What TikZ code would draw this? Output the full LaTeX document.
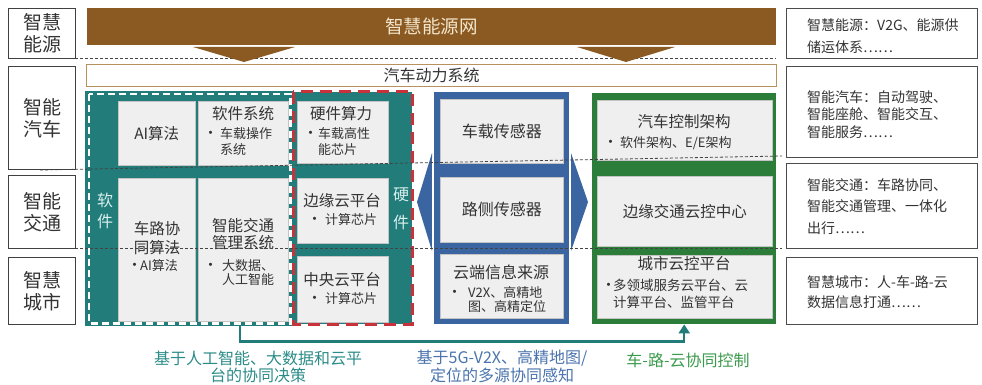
\documentclass[tikz,border=0pt]{standalone}
\usepackage{fontspec}
\setmainfont{Noto Sans CJK SC}
\usetikzlibrary{arrows.meta}
\definecolor{txt}{HTML}{333333}
\definecolor{brownc}{HTML}{8B5A22}
\definecolor{brownl}{HTML}{B8925E}
\definecolor{bandtxt}{HTML}{F3E6CC}
\definecolor{tealc}{HTML}{217C7A}
\definecolor{tealt}{HTML}{2B8C88}
\definecolor{bluec}{HTML}{3A65A0}
\definecolor{bluet}{HTML}{4A74AE}
\definecolor{greenc}{HTML}{2D7D3A}
\definecolor{greent}{HTML}{3B9B4C}
\definecolor{redc}{HTML}{C8323A}
\definecolor{cellc}{HTML}{EFEFEF}
\definecolor{celld}{HTML}{C4C4C4}
\definecolor{lightt}{HTML}{D8F0EE}
\definecolor{sepc}{HTML}{444444}
\newcommand\bul[1]{\makebox[#1][l]{\fontsize{15}{15}\selectfont •}}
\newcommand\hng[1]{\makebox[#1]{}}
\begin{document}
\begin{tikzpicture}[x=1pt,y=-1pt,
  every node/.style={inner sep=0pt, text=txt},
  lab/.style={draw=black!75, line width=1.1pt, fill=white, anchor=north west,
    align=center, font=\fontsize{19}{22}\selectfont},
  rbox/.style={draw=black!70, line width=1pt, fill=white, anchor=north west},
  cell/.style={fill=cellc, draw=celld, line width=0.5pt, anchor=north west},
  blk/.style={anchor=north west, fill=#1},
  fA/.style={font=\fontsize{15.5}{#1}\selectfont},
  fA/.default=19,
  fB/.style={font=\fontsize{13}{#1}\selectfont, align=left, anchor=west},
  fB/.default=16,
  fR/.style={font=\fontsize{14}{#1}\selectfont, align=left, anchor=west},
  fD/.style={font=\fontsize{16}{#1}\selectfont, align=center},
  sep/.style={draw=sepc, line width=0.8pt, dash pattern=on 3pt off 2pt},
]
\useasboundingbox (0,0) rectangle (982,385);
\fill[white] (0,0) rectangle (982,385);

% left labels
\node[lab, minimum width=67pt, minimum height=50pt] (l1) at (8,8) {智慧\\能源};
\node[lab, minimum width=67pt, minimum height=103pt] (l2) at (8,66) {智能\\汽车};
\node[lab, minimum width=67pt, minimum height=73pt] (l3) at (8,175) {智能\\交通};
\node[lab, minimum width=67pt, minimum height=67pt] (l4) at (8,257) {智慧\\城市};

% top band
\node[blk=brownc, minimum width=689pt, minimum height=37pt, text=bandtxt,
  font=\fontsize{18.5}{20}\selectfont] (band) at (87,8) {智慧能源网};
\node[draw=brownl, line width=1pt, fill=white, anchor=north west, minimum width=690pt,
  minimum height=22pt, font=\fontsize{16}{18}\selectfont] (pow) at (86,64) {汽车动力系统};

% software block
\node[blk=tealc, minimum width=208pt, minimum height=235pt] (sw) at (85,91) {};
\draw[white, line width=2.2pt, dash pattern=on 7pt off 4pt]
  ([shift={(4,3)}]sw.north west) rectangle ([shift={(-3,-3)}]sw.south east);
\node[cell, minimum width=77pt, minimum height=64pt, fA] (sw11) at (118,101) {AI算法};
\node[cell, minimum width=90pt, minimum height=64pt] (sw12) at (198,101) {};
\node[cell, minimum width=77pt, minimum height=143pt] (sw21) at (118,178) {};
\node[cell, minimum width=90pt, minimum height=143pt] (sw22) at (198,178) {};
\node[font=\fontsize{16}{21}\selectfont, align=center, text=lightt] (swv) at (105,210.5) {软\\件};
\node[fA] (sw12t) at (243,114) {软件系统};
\node[fB=16] (sw12b) at (203,142) {\bul{17pt}车载操作\\\hng{17pt}系统};
\node[fA=19, align=center] (sw21t) at (157,238) {车路协\\同算法};
\node[fB] (sw21b) at (127,266) {\bul{13pt}AI算法};
\node[fA=17, align=center] (sw22t) at (243,234.5) {智能交通\\管理系统};
\node[fB=14] (sw22b) at (203,273) {\bul{19pt}大数据、\\\hng{19pt}人工智能};

% hardware block
\node[blk=tealc, minimum width=119pt, minimum height=232pt] (hw) at (293,92) {};
\node[cell, minimum width=91pt, minimum height=62pt] (hw1) at (297,101) {};
\node[cell, minimum width=91pt, minimum height=65pt] (hw2) at (297,178) {};
\node[cell, minimum width=91pt, minimum height=66pt] (hw3) at (297,256) {};
\draw[redc, line width=3pt, dash pattern=on 12pt off 7pt]
  (hw.north west) rectangle (hw.south east);
\node[font=\fontsize{16}{28}\selectfont, align=center, text=lightt] (hwv) at (401,209) {硬\\件};
\node[fA] (hw1t) at (341,114) {硬件算力};
\node[fB=16] (hw1b) at (303,142) {\bul{15pt}车载高性\\\hng{15pt}能芯片};
\node[fA] (hw2t) at (342,201) {边缘云平台};
\node[fB] (hw2b) at (307,220) {\bul{18pt}计算芯片};
\node[fA] (hw3t) at (342,280) {中央云平台};
\node[fB] (hw3b) at (307,299) {\bul{18pt}计算芯片};

% blue block with double arrow
\fill[bluec] (417,202) -- (432,153) -- (432,251) -- cycle;
\fill[bluec] (588,202) -- (571,153) -- (571,251) -- cycle;
\node[blk=bluec, minimum width=135pt, minimum height=232pt] (bl) at (434,92) {};
\draw[white, line width=1.3pt] (433,158) -- (433,247);
\draw[white, line width=1.3pt] (569.5,158) -- (569.5,247);
\node[cell, minimum width=123pt, minimum height=64pt, font=\fontsize{16}{18}\selectfont] (bl1) at (440,99) {车载传感器};
\node[cell, minimum width=123pt, minimum height=65pt, font=\fontsize{16}{18}\selectfont] (bl2) at (440,177) {路侧传感器};
\node[cell, minimum width=123pt, minimum height=64pt] (bl3) at (440,254) {};
\node[font=\fontsize{16}{18}\selectfont] (bl3t) at (501,272) {云端信息来源};
\node[fB=14] (bl3b) at (447,299.5) {\bul{21pt}V2X、高精地\\\hng{21pt}图、高精定位};

% green block
\node[blk=greenc, minimum width=184pt, minimum height=231pt] (gr) at (592,93) {};
\node[cell, minimum width=175pt, minimum height=60pt] (gr1) at (597,100) {};
\node[cell, minimum width=175pt, minimum height=70pt, fA] (gr2) at (597,176) {边缘交通云控中心};
\node[cell, minimum width=175pt, minimum height=63pt] (gr3) at (597,255) {};
\node[fA] (gr1t) at (684,122) {汽车控制架构};
\node[fB] (gr1b) at (603,143) {\bul{17pt}软件架构、E/E架构};
\node[fA] (gr3t) at (684,264) {城市云控平台};
\node[font=\fontsize{13.5}{17}\selectfont, align=left, anchor=west] (gr3b) at (601,294)
  {\bul{12pt}多领域服务云平台、云\\\hng{12pt}计算平台、监管平台};

% right boxes
\node[rbox, minimum width=191pt, minimum height=50pt] (r1) at (786,8) {};
\node[rbox, minimum width=191pt, minimum height=91pt] (r2) at (786,66) {};
\node[rbox, minimum width=191pt, minimum height=85pt] (r3) at (786,163) {};
\node[rbox, minimum width=191pt, minimum height=67pt] (r4) at (786,257) {};
\node[fR=22] (r1t) at (807,36) {智慧能源：V2G、能源供\\储运体系……};
\node[fR=17.5] (r2t) at (807,114.5) {智能汽车：自动驾驶、\\智能座舱、智能交互、\\智能服务……};
\node[fR=21.5] (r3t) at (807,206.5) {智能交通：车路协同、\\智能交通管理、一体化\\出行……};
\node[fR=20] (r4t) at (807,292) {智慧城市：人-车-路-云\\数据信息打通……};

% dashed layer separators
\draw[sep] (40,58) -- (776,58);
\draw[sep] (40,170) -- (782,156);
\draw[sep] (40,248) -- (782,248);

% arrows under the energy band
\fill[brownc] (193,47) -- (295,47) -- (244,62) -- cycle;
\fill[brownc] (577,47) -- (675,47) -- (626,62) -- cycle;

% connector
\draw[tealc, line width=2.5pt, -{Triangle[length=9pt,width=11pt]}]
  ([xshift=51pt]sw.south) -- ++(0,15) -| (gr.south);

% bottom captions
\node[fD=17, text=tealt] (d1) at (258,366.5) {基于人工智能、大数据和云平\\台的协同决策};
\node[fD=18, text=bluet] (d2) at (502,366) {基于5G-V2X、高精地图/\\定位的多源协同感知};
\node[fD=18, text=greent] (d3) at (688,360) {车-路-云协同控制};
\end{tikzpicture}
\end{document}
